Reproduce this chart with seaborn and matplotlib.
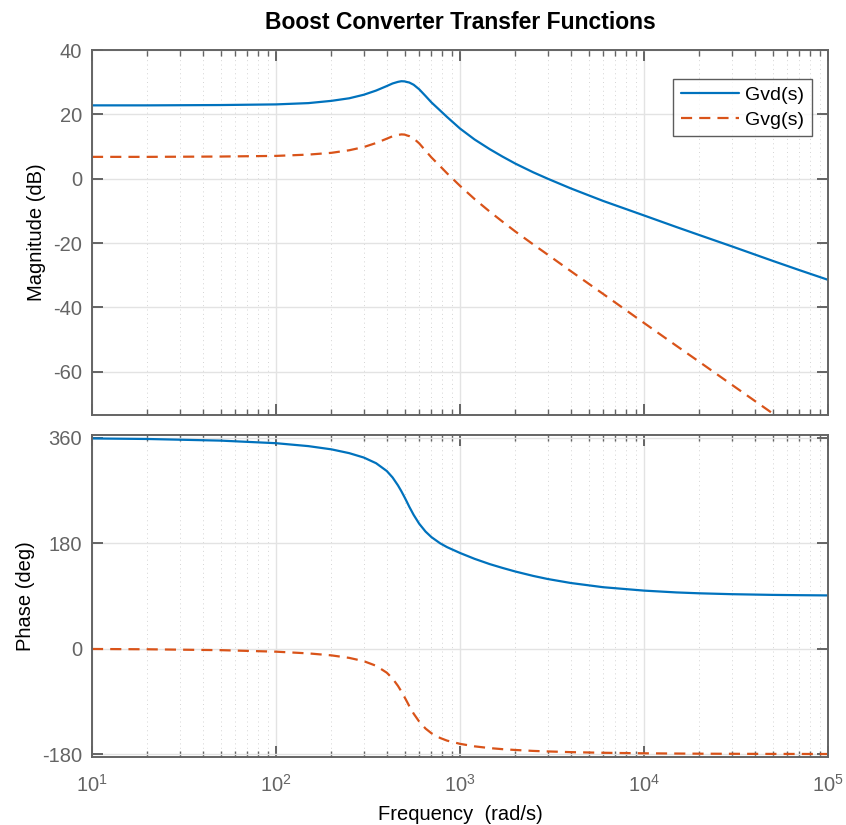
import numpy as np
import pandas as pd
import matplotlib
matplotlib.use("Agg")
import matplotlib.pyplot as plt
import seaborn as sns
from matplotlib.ticker import LogLocator, NullFormatter, FixedLocator

# ---- data (frequency in rad/s) ----
freq = [10, 20, 50, 100, 150, 200, 250, 300, 350, 400, 430, 460, 480, 500, 515,
        530, 560, 600, 650, 700, 780, 850, 1000, 1200, 1450, 1700, 2000, 2500,
        3000, 4000, 6000, 10000, 15000, 20000, 30000, 50000, 70000, 100000]

gvd_mag = [22.8, 22.8, 22.9, 23.1, 23.5, 24.2, 25.0, 26.1, 27.4, 28.8, 29.6, 30.1,
           30.3, 30.25, 30.05, 29.9, 29.2, 27.8, 25.7, 23.7, 21.2, 19.2, 15.6, 12.2,
           9.2, 6.9, 4.7, 2.0, 0.0, -3.0, -6.9, -11.4, -15.0, -17.5, -21.0, -25.5,
           -28.4, -31.4]

gvg_mag = [6.8, 6.8, 6.9, 7.1, 7.5, 8.05, 8.85, 9.85, 11.1, 12.45, 13.2, 13.6,
           13.78, 13.72, 13.45, 13.25, 12.5, 11.0, 8.7, 6.6, 3.9, 1.7, -2.2, -6.3,
           -10.2, -13.3, -16.4, -20.4, -23.6, -28.7, -35.8, -44.8, -51.9, -56.9,
           -64.0, -72.9, -78.7, -84.9]

gvd_phase = [359.1, 358.2, 355.4, 351.0, 346.0, 340.5, 334.0, 326.5, 316.8, 303.5,
             292.5, 279.0, 269.0, 258.5, 250.5, 242.5, 228.5, 213.5, 200.0, 190.5,
             180.0, 173.5, 163.5, 153.5, 144.5, 138.0, 131.8, 124.3, 119.0, 112.2,
             105.0, 99.2, 96.1, 94.6, 93.1, 91.9, 91.4, 91.0]

gvg_phase = [-0.5, -1.0, -2.5, -5.1, -8.0, -11.4, -15.7, -21.3, -29.2, -41.0,
             -51.0, -63.5, -73.0, -83.0, -90.5, -98.0, -111.0, -124.5, -136.5,
             -144.5, -152.5, -157.0, -162.5, -166.8, -169.8, -171.6, -173.0, -174.6,
             -175.5, -176.7, -177.8, -178.7, -179.1, -179.35, -179.55, -179.75,
             -179.8, -179.9]

series_names = ["Gvd(s)", "Gvg(s)"]
mag_ticks = [-60, -40, -20, 0, 20, 40]
phase_ticks = [-180, 0, 180, 360]

title_text = "Boost Converter Transfer Functions"
mag_label = "Magnitude (dB)"
phase_label = "Phase (deg)"
freq_label = "Frequency  (rad/s)"

# ---- style ----
sns.set_theme(style="white")
plt.rcParams["font.family"] = ["Liberation Sans", "DejaVu Sans"]
plt.rcParams["axes.unicode_minus"] = False
plt.rcParams["mathtext.fontset"] = "custom"
plt.rcParams["mathtext.rm"] = "Liberation Sans"
plt.rcParams["mathtext.it"] = "Liberation Sans:italic"
plt.rcParams["mathtext.bf"] = "Liberation Sans:bold"

BLUE = "#0072BD"
ORANGE = "#D95319"
AX_GRAY = "#646464"
GRID = "#e3e3e3"

df_mag = pd.DataFrame({"freq": freq * 2,
                       "val": gvd_mag + gvg_mag,
                       "name": [series_names[0]] * len(freq) + [series_names[1]] * len(freq)})
df_ph = pd.DataFrame({"freq": freq * 2,
                      "val": gvd_phase + gvg_phase,
                      "name": [series_names[0]] * len(freq) + [series_names[1]] * len(freq)})

fig = plt.figure(figsize=(8.46, 8.25), dpi=100)
ax1 = fig.add_axes([92 / 846, 1 - 415 / 825, 736 / 846, 365 / 825])
ax2 = fig.add_axes([92 / 846, 1 - 757 / 825, 736 / 846, 322 / 825])

for ax, df in ((ax1, df_mag), (ax2, df_ph)):
    sub_d = df[df["name"] == series_names[0]]
    sub_g = df[df["name"] == series_names[1]]
    sns.lineplot(data=sub_d, x="freq", y="val", ax=ax, color=BLUE, linewidth=1.6,
                 label=series_names[0], estimator=None, sort=False, legend=False)
    sns.lineplot(data=sub_g, x="freq", y="val", ax=ax, color=ORANGE, linewidth=1.6,
                 label=series_names[1], estimator=None, sort=False, legend=False)
    ax.lines[-1].set_dashes([5, 3.2])
    ax.set_xscale("log")
    ax.set_xlim(10, 1e5)
    ax.xaxis.set_major_locator(LogLocator(base=10, numticks=10))
    ax.xaxis.set_minor_locator(LogLocator(base=10, subs=np.arange(2, 10), numticks=50))
    ax.xaxis.set_minor_formatter(NullFormatter())
    ax.grid(True, which="major", color=GRID, linewidth=1.0, linestyle="-")
    ax.grid(True, which="minor", axis="x", color="#d4d4d4", linewidth=0.7,
            linestyle=(0, (1, 3.5)))
    ax.set_axisbelow(True)
    for sp in ax.spines.values():
        sp.set_color(AX_GRAY)
        sp.set_linewidth(1.4)
        sp.set_visible(True)
    ax.tick_params(which="both", direction="in", top=True, right=True,
                   bottom=True, left=True, color=AX_GRAY, labelcolor=AX_GRAY,
                   labelsize=14.5)
    ax.tick_params(which="major", length=8, width=1.4)
    ax.tick_params(which="minor", length=4, width=1.0)
    ax.tick_params(axis="y", pad=7)
    ax.set_xlabel("")
    ax.set_ylabel("")

ax1.set_ylim(-73.4, 40)
ax1.yaxis.set_major_locator(FixedLocator(mag_ticks))
ax1.tick_params(axis="x", labelbottom=False)
ax1.set_ylabel(mag_label, fontsize=14.5, color="black", labelpad=5)
ax1.set_title(title_text, fontsize=16.5, fontweight="bold", pad=15, color="black")

ax2.set_ylim(-185, 365)
ax2.yaxis.set_major_locator(FixedLocator(phase_ticks))
ax2.set_ylabel(phase_label, fontsize=14.5, color="black", labelpad=5)
ax2.set_xlabel(freq_label, fontsize=14.5, color="black", labelpad=7)
ax2.tick_params(axis="x", pad=12)

leg = ax1.legend(loc="upper right", bbox_to_anchor=(0.978, 0.921), fontsize=14,
                 frameon=True, fancybox=False, handlelength=3.0, handletextpad=0.3,
                 borderpad=0.4, labelspacing=0.35, borderaxespad=0)
leg.get_frame().set_edgecolor("#333333")
leg.get_frame().set_linewidth(1.0)
for txt in leg.get_texts():
    txt.set_color("black")

fig.savefig("out.png", dpi=100, facecolor="white")
